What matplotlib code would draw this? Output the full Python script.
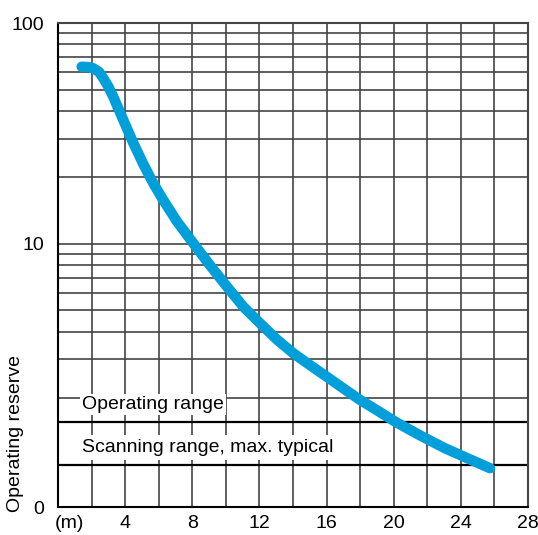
import matplotlib.pyplot as plt
import numpy as np

plt.rcParams['font.family'] = ['Liberation Sans', 'DejaVu Sans']
plt.rcParams['font.size'] = 14

# curve (distance in m, operating reserve)
distance = [1.41, 1.8, 2.10, 2.45, 2.70, 3.0, 3.29, 3.89, 4.49, 5.08, 5.68, 6.27,
            7.07, 8.06, 9.06, 10.05, 11.04, 12.03, 13.03, 14.02, 15.01, 16.0,
            17.0, 17.99, 18.99, 20.08, 21.57, 23.05, 24.54, 25.74]
reserve = [63.4, 63.2, 62.4, 60.0, 56.2, 51.5, 46.4, 36.4, 28.6, 23.0, 18.8, 15.8,
           12.7, 10.07, 8.0, 6.43, 5.2, 4.38, 3.7, 3.2, 2.83, 2.51,
           2.22, 1.97, 1.77, 1.57, 1.36, 1.19, 1.06, 0.966]

operating_level = 1.565
scanning_level = 1.0
y_bottom = 0.645

x_ticks = [4, 8, 12, 16, 20, 24, 28]
y_ticks = [y_bottom, 10, 100]
y_tick_labels = ['0', '10', '100']
y_grid = [2, 3, 4, 5, 6, 7, 8, 9, 20, 30, 40, 50, 60, 70, 80, 90]

W, H = 538, 535
fig = plt.figure(figsize=(W / 100, H / 100), dpi=100)
ax = fig.add_axes([58 / W, 1 - 507 / H, 470 / W, 484 / H])
ax.set_yscale('log')
ax.set_xlim(0, 28)
ax.set_ylim(y_bottom, 100)

grid_kw = dict(color='#444444', lw=1.2, zorder=1)
for x in np.arange(2, 28, 2):
    ax.axvline(x, **grid_kw)
for y in y_grid + [10]:
    ax.axhline(y, **grid_kw)

ax.axhline(operating_level, color='black', lw=1.6, zorder=2)
ax.axhline(scanning_level, color='black', lw=1.6, zorder=2)

ax.text(1.45, 1.87, 'Operating range', va='center', ha='left', zorder=3,
        bbox=dict(facecolor='white', edgecolor='none', pad=1.5))
ax.text(1.45, 1.2, 'Scanning range, max. typical', va='center', ha='left', zorder=3,
        bbox=dict(facecolor='white', edgecolor='none', pad=3))

ax.plot(distance, reserve, color='#009FDA', lw=7.5, solid_capstyle='round',
        solid_joinstyle='round', zorder=4)

ax.set_xticks(x_ticks)
ax.set_yticks(y_ticks)
ax.set_yticklabels(y_tick_labels)
ax.yaxis.set_minor_locator(plt.NullLocator())
ax.tick_params(length=0, pad=6)
ax.tick_params(axis='y', pad=10)

for side in ['left', 'bottom']:
    ax.spines[side].set_color('black')
    ax.spines[side].set_linewidth(1.5)
for side in ['top', 'right']:
    ax.spines[side].set_color('#444444')
    ax.spines[side].set_linewidth(1.5)

ax.annotate('(m)', xy=(0, 0), xycoords=('data', 'axes fraction'),
            xytext=(-2, -6), textcoords='offset points', ha='left', va='top')
fig.text(16 / W, 1 - 512 / H, 'Operating reserve', rotation=90, ha='center', va='bottom')

fig.savefig('out.png', dpi=100)
